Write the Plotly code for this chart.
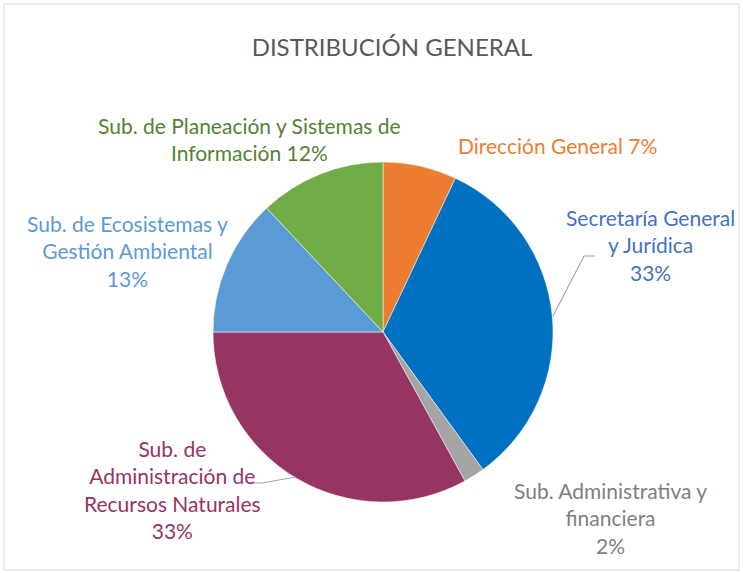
import plotly.graph_objects as go

W, H = 743, 573

labels = ["Dirección General", "Secretaría General y Jurídica", "Sub. Administrativa y financiera",
          "Sub. de Administración de Recursos Naturales", "Sub. de Ecosistemas y Gestión Ambiental",
          "Sub. de Planeación y Sistemas de Información"]
values = [7, 33, 2, 33, 13, 12]
slice_colors = ["#ED7D31", "#0070C0", "#A5A5A5", "#963462", "#5B9BD5", "#70AD47"]
text_colors = ["#ED7D31", "#4472C4", "#7F7F7F", "#963462", "#5B9BD5", "#548235"]
label_texts = [
    "Dirección General 7%",
    "Secretaría General<br>y Jurídica<br>33%",
    "Sub. Administrativa y<br>financiera<br>2%",
    "Sub. de<br>Administración de<br>Recursos Naturales<br>33%",
    "Sub. de Ecosistemas y<br>Gestión Ambiental<br>13%",
    "Sub. de Planeación y Sistemas de<br>Información 12%",
]
# label centre positions in pixels (x, y of block centre)
label_pos = [(557, 145), (650, 245), (610, 518), (172, 489), (127, 251), (250, 139)]

FONT = "Lato"

cx, cy, r = 383, 332, 170

fig = go.Figure(go.Pie(
    labels=labels, values=values, sort=False, direction="clockwise", rotation=0,
    marker=dict(colors=slice_colors, line=dict(color="white", width=0.5)),
    textinfo="none", hoverinfo="label+percent", showlegend=False,
    domain=dict(x=[(cx - r) / W, (cx + r) / W], y=[1 - (cy + r) / H, 1 - (cy - r) / H]),
))

for t, c, (x, y) in zip(label_texts, text_colors, label_pos):
    fig.add_annotation(x=x / W, y=1 - y / H, xref="paper", yref="paper", text=t,
                       showarrow=False, font=dict(family=FONT, size=21, color=c),
                       xanchor="center", yanchor="middle", align="center")

def px_line(pts, color="#A6A6A6"):
    path = "M " + " L ".join(f"{x / W},{1 - y / H}" for x, y in pts)
    fig.add_shape(type="path", path=path, xref="paper", yref="paper",
                  line=dict(color=color, width=1.2))

px_line([(595, 256), (584, 256), (553, 316)])
px_line([(251, 483), (262, 483), (296, 477)])

# chart border
fig.add_shape(type="rect", xref="paper", yref="paper", x0=4 / W, x1=739 / W,
              y0=1 - 570 / H, y1=1 - 4 / H, line=dict(color="#D9D9D9", width=1))

fig.update_layout(
    width=W, height=H, margin=dict(l=0, r=0, t=0, b=0),
    paper_bgcolor="white", plot_bgcolor="white",
    title=dict(text="DISTRIBUCIÓN GENERAL", x=392 / W, xanchor="center", y=1 - 48 / H, yanchor="middle",
               font=dict(family=FONT, size=24, color="#595959")),
)

fig.write_html("out.html", config={"displayModeBar": False},
               post_script="document.body.style.margin='0';document.body.style.overflow='hidden';")
